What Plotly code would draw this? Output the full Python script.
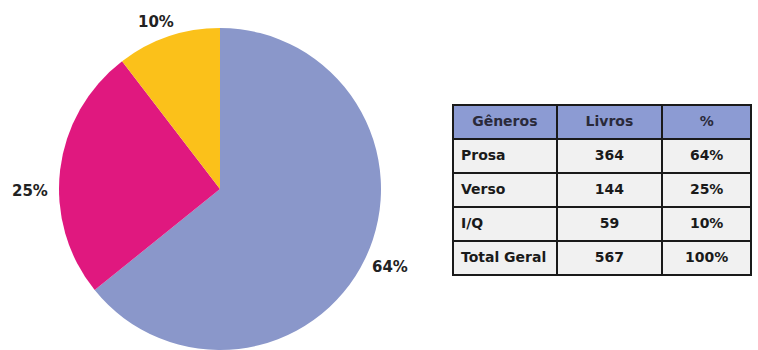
import math
import plotly.graph_objects as go

generos = ["Prosa", "Verso", "I/Q"]
livros = [364, 144, 59]
pct_labels = ["64%", "25%", "10%"]
colors = ["#8A97CA", "#E0187F", "#FBC11A"]

header = ["Gêneros", "Livros", "%"]
tab_generos = ["Prosa", "Verso", "I/Q", "Total Geral"]
tab_livros = ["364", "144", "59", "567"]
tab_pct = ["64%", "25%", "10%", "100%"]

W, H = 758, 350
mt, mb = 28, 0
ph = H - mt - mb

dom_x = [57 / W, 383 / W]
fig = go.Figure()
fig.add_trace(go.Pie(
    labels=generos, values=livros,
    textinfo="none",
    marker=dict(colors=colors, line=dict(width=0)),
    sort=False, direction="clockwise", rotation=0,
    domain=dict(x=dom_x, y=[0, 1]),
    showlegend=False, hoverinfo="skip",
))

# outside labels placed along each slice's mid-angle
cx_px = (dom_x[0] + dom_x[1]) / 2 * W
cy_px = mt + ph / 2
r_px = ph / 2
total = sum(livros)
label_r = [1.17, 1.19, 1.14]
label_dx = [0, 0, -5]
label_dy = [-3, 25, 7]
cum = 0
annotations = []
for v, t, k, dx, dy in zip(livros, pct_labels, label_r, label_dx, label_dy):
    mid = (cum + v / 2) / total * 2 * math.pi
    cum += v
    x = cx_px + k * r_px * math.sin(mid) + dx
    y = cy_px - k * r_px * math.cos(mid) + dy
    annotations.append(dict(
        x=x / W, y=1 - (y - mt) / ph, xref="paper", yref="paper",
        text=f"<b>{t}</b>", showarrow=False, xanchor="center", yanchor="middle",
        font=dict(family="DejaVu Sans", size=15, color="#222222"),
    ))

def py(p):
    return 1 - (p - mt) / ph

fig.add_trace(go.Table(
    domain=dict(x=[453 / W, 752 / W], y=[py(278), py(105)]),
    columnwidth=[104, 106, 89],
    header=dict(
        values=[f"<b>{h}</b>" for h in header],
        fill_color="#8C9BD3",
        line=dict(color="#1a1a1a", width=2),
        align="center",
        font=dict(family="DejaVu Sans", size=14, color="#2a2a3a"),
        height=34,
    ),
    cells=dict(
        values=[[f"<b>{v.replace(' ', chr(160))}</b>" for v in tab_generos],
                [f"<b>{v}</b>" for v in tab_livros],
                [f"<b>{v}</b>" for v in tab_pct]],
        fill_color="#F1F1F1",
        line=dict(color="#1a1a1a", width=2),
        align=["left", "center", "center"],
        font=dict(family="DejaVu Sans", size=14, color="#1a1a1a"),
        height=34,
    ),
))

fig.update_layout(
    width=W, height=H,
    margin=dict(l=0, r=0, t=mt, b=mb),
    paper_bgcolor="white", plot_bgcolor="white",
    annotations=annotations,
)

fig.write_html("out.html")
